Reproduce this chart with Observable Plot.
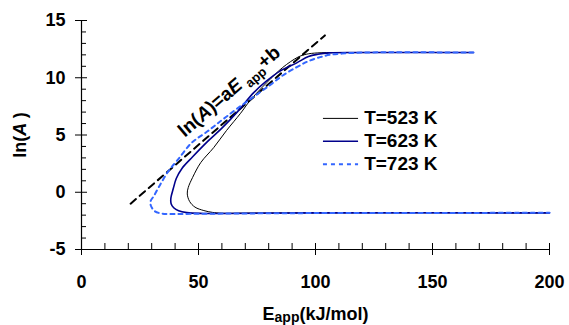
<!DOCTYPE html>
<html><head><meta charset="utf-8">
<script src="https://cdn.jsdelivr.net/npm/d3@7"></script>
<script src="https://cdn.jsdelivr.net/npm/@observablehq/plot@0.6"></script>
<style>
body{margin:0;background:#fff;}
#chart{width:569px;height:325px;}
</style></head><body><div id="chart"></div>
<script>
// ---- data ----
const seriesNames = ["T=523 K", "T=623 K", "T=723 K"];
const e523  = [167.5, 120, 101, 96, 92.5, 86, 79.3, 72, 68, 62, 56.5, 51, 47.5, 45.6, 45.2, 46.2, 48.5, 52.3, 56, 60, 70, 100, 200];
const ln523 = [12.2, 12.2, 12.17, 12.05, 11.8, 10.9, 9.6, 8.0, 6.9, 5.4, 3.9, 2.6, 1.3, 0.4, -0.15, -0.8, -1.3, -1.6, -1.76, -1.83, -1.82, -1.8, -1.8];
const e623  = [167.5, 120, 106, 101, 97, 92, 85, 79, 73.6, 66.5, 60, 53.7, 47.5, 43, 40.5, 39.2, 38.2, 38.3, 39.4, 41.5, 45, 52, 62, 100, 200];
const ln623 = [12.2, 12.2, 12.17, 12.05, 11.85, 11.3, 10.6, 9.7, 8.7, 7.0, 5.6, 4.4, 3.1, 2.1, 1.2, 0.3, -0.5, -1.0, -1.35, -1.62, -1.78, -1.85, -1.85, -1.8, -1.8];
const e723  = [167.5, 120, 110.7, 106, 102, 97, 92.2, 86, 80.8, 74, 66.5, 60, 53.7, 47, 41, 37, 33.8, 31, 29.5, 29.7, 31.3, 34, 37, 50, 100, 200];
const ln723 = [12.2, 12.2, 12.1, 12.0, 11.8, 11.45, 10.95, 10.2, 9.4, 8.4, 7.3, 6.3, 5.3, 4.3, 2.8, 1.8, 0.73, -0.3, -0.8, -1.2, -1.65, -1.85, -1.9, -1.88, -1.82, -1.8];
const fitE   = [21, 104];
const fitLnA = [-1.0, 13.7];
const fitLabel = "ln(A)=aE app+b";
const xMajorTicks = [0, 50, 100, 150, 200];
const xMinorTicks = [10, 20, 30, 40, 60, 70, 80, 90, 110, 120, 130, 140, 160, 170, 180, 190];
const yMajorTicks = [-5, 0, 5, 10, 15];
const yMinorTicks = [-4, -3, -2, -1, 1, 2, 3, 4, 6, 7, 8, 9, 11, 12, 13, 14];

// ---- styling ----
const colors = ["#000000", "#00008b", "#3366ff"];
const widths = [1, 1.6, 2];
const dashes = [null, null, "4,4"];

const toRows = (es, ls, name) => es.map((e, i) => ({e, lnA: ls[i], series: name}));
const curves = [toRows(e523, ln523, seriesNames[0]), toRows(e623, ln623, seriesNames[1]), toRows(e723, ln723, seriesNames[2])];
const fitRows = fitE.map((e, i) => ({e, lnA: fitLnA[i]}));

// legend placement (in data units)
const legX1 = 103.4, legX2 = 118.4, legTextX = 120.8, legTop = 6.45, legStep = 2.0;
const legendRows = seriesNames.map((s, i) => ({s, i, y: legTop - i * legStep}));

const font = "'Liberation Sans', Arial, Helvetica, sans-serif";

const plot = Plot.plot({
  width: 569, height: 325,
  marginLeft: 81, marginRight: 20, marginTop: 20, marginBottom: 76,
  style: {fontFamily: font, fontSize: "18px", fontWeight: "bold", background: "#fff", color: "#000", overflow: "visible"},
  x: {domain: [0, 200]},
  y: {domain: [-5, 15]},
  marks: [
    Plot.ruleY([-5], {stroke: "#000", strokeWidth: 1.2}),
    Plot.ruleX([0], {stroke: "#000", strokeWidth: 1.2}),
    Plot.axisX({ticks: xMajorTicks, tickSize: 6, tickPadding: 20, tickFormat: d => String(d), label: "Eapp(kJ/mol)", labelAnchor: "center", labelOffset: 70, labelArrow: "none", stroke: "#000"}),
    Plot.axisX({ticks: xMajorTicks, tickSize: -6, text: null, label: null, stroke: "#000"}),
    Plot.axisX({ticks: xMinorTicks, tickSize: -6, text: null, label: null, stroke: "#000"}),
    Plot.axisY({ticks: yMajorTicks, tickSize: 6, tickPadding: 10, tickFormat: d => String(d), label: "ln(A)", labelAnchor: "center", labelOffset: 68, labelArrow: "none", stroke: "#000"}),
    Plot.axisY({ticks: yMajorTicks, tickSize: -6, text: null, label: null, stroke: "#000"}),
    Plot.axisY({ticks: yMinorTicks, tickSize: -5, text: null, label: null, stroke: "#000"}),
    Plot.line(fitRows, {x: "e", y: "lnA", stroke: "#000", strokeWidth: 2, strokeDasharray: "7,5"}),
    ...curves.map((rows, k) => Plot.line(rows, {x: "e", y: "lnA", stroke: colors[k], strokeWidth: widths[k], strokeDasharray: dashes[k], curve: "catmull-rom"})),
    Plot.text([fitLabel], {x: 63.1, y: 8.8, text: d => d, rotate: -40.7, fontSize: 19, fontWeight: "bold", textAnchor: "middle", fill: "#000"}),
    ...legendRows.map(r => Plot.ruleY([r], {y: "y", x1: legX1, x2: legX2, stroke: colors[r.i], strokeWidth: widths[r.i], strokeDasharray: dashes[r.i]})),
    Plot.text(legendRows, {x: legTextX, y: "y", text: "s", textAnchor: "start", fontSize: 19, fontWeight: "bold", fill: "#000"})
  ]
});
document.getElementById("chart").appendChild(plot);

// rich text: italic A, subscript "app"
const svg = d3.select(plot);
svg.selectAll("text").each(function() {
  const t = d3.select(this);
  const s = this.textContent;
  if (s === fitLabel) {
    t.text(null);
    t.append("tspan").text("ln(");
    t.append("tspan").attr("font-style", "italic").text("A");
    t.append("tspan").text(")=a");
    t.append("tspan").attr("font-style", "italic").text("E");
    t.append("tspan").attr("font-size", 13).attr("dy", 5).attr("dx", 4).text("app");
    t.append("tspan").attr("dy", -5).text("+b");
  } else if (s === "ln(A)") {
    t.text(null);
    t.append("tspan").text("ln(");
    t.append("tspan").attr("font-style", "italic").text("A ");
    t.append("tspan").text(")");
  } else if (s === "Eapp(kJ/mol)") {
    t.text(null);
    t.append("tspan").text("E");
    t.append("tspan").attr("font-size", 14).attr("dy", 2).text("app");
    t.append("tspan").attr("dy", -2).text("(kJ/mol)");
  }
});
</script></body></html>
